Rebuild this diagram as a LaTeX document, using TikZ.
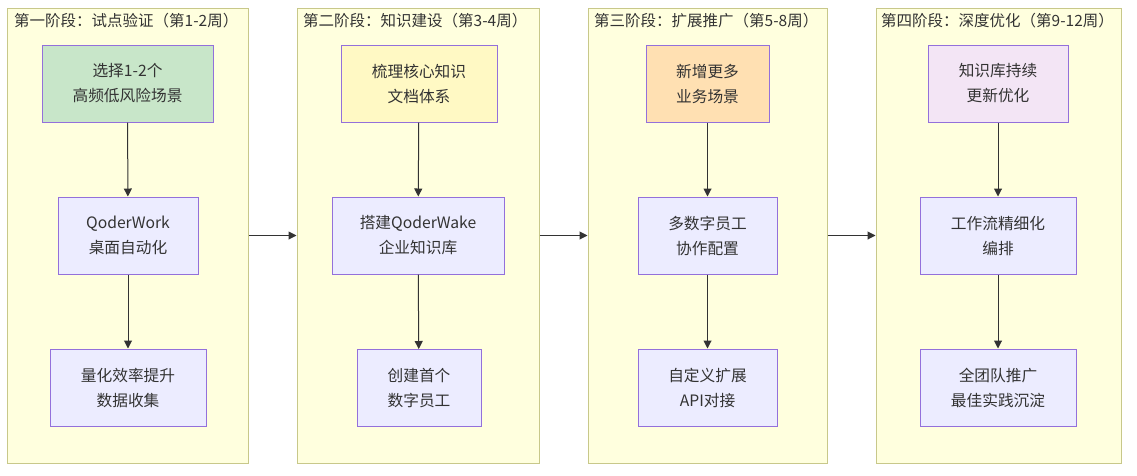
\documentclass[tikz,border=0pt]{standalone}
\usepackage{fontspec}
\setmainfont{Noto Sans CJK SC}
\usetikzlibrary{arrows.meta}
\definecolor{clfill}{HTML}{FFFFDE}
\definecolor{cldraw}{HTML}{C8C88A}
\definecolor{ndfill}{HTML}{ECECFF}
\definecolor{nddraw}{HTML}{9370DB}
\definecolor{txt}{HTML}{333333}
\definecolor{green1}{HTML}{C8E6C9}
\definecolor{yellow1}{HTML}{FFF9C4}
\definecolor{orange1}{HTML}{FFE0B2}
\definecolor{purple1}{HTML}{F3E5F5}
\tikzset{
  cluster/.style={draw=cldraw, fill=clfill, line width=1pt},
  box/.style={draw=nddraw, fill=ndfill, line width=1pt, minimum height=77pt, align=center,
    text=txt, font=\fontsize{15.7pt}{25pt}\selectfont, inner sep=0pt},
  ctitle/.style={anchor=west, text=txt, font=\fontsize{15.5pt}{17pt}\selectfont, inner sep=0pt},
  arr/.style={draw=txt, line width=1pt, -{Triangle[length=8pt,width=8pt]}}
}
\begin{document}
\begin{tikzpicture}[x=1pt,y=-1pt]
\useasboundingbox[fill=white] (0,0) rectangle (1137,475);
% clusters
\node[cluster, minimum width=241pt, minimum height=455pt, inner sep=0pt] (c1) at (128,235.5) {};
\node[cluster, minimum width=242pt, minimum height=455pt, inner sep=0pt] (c2) at (418,235.5) {};
\node[cluster, minimum width=239pt, minimum height=455pt, inner sep=0pt] (c3) at (707.5,235.5) {};
\node[cluster, minimum width=245pt, minimum height=455pt, inner sep=0pt] (c4) at (998.5,235.5) {};
\node[ctitle] (t1) at (14,20.5) {第一阶段：试点验证（第1-2周）};
\node[ctitle] (t2) at (303,20.5) {第二阶段：知识建设（第3-4周）};
\node[ctitle] (t3) at (594,20.5) {第三阶段：扩展推广（第5-8周）};
\node[ctitle] (t4) at (881,20.5) {第四阶段：深度优化（第9-12周）};
% cluster 1
\node[box, fill=green1, minimum width=171pt] (a1) at (127.5,83.5) {选择1-2个\\高频低风险场景};
\node[box, minimum width=140pt] (a2) at (128,235.5) {QoderWork\\桌面自动化};
\node[box, minimum width=156pt] (a3) at (128,387.5) {量化效率提升\\数据收集};
% cluster 2
\node[box, fill=yellow1, minimum width=156pt] (b1) at (419,83.5) {梳理核心知识\\文档体系};
\node[box, minimum width=172pt] (b2) at (418,235.5) {搭建QoderWake\\企业知识库};
\node[box, minimum width=124pt] (b3) at (419,388) {创建首个\\数字员工};
% cluster 3
\node[box, fill=orange1, minimum width=123pt] (d1) at (707.5,83.5) {新增更多\\业务场景};
\node[box, minimum width=139pt] (d2) at (707.5,235.5) {多数字员工\\协作配置};
\node[box, minimum width=139pt] (d3) at (707.5,387.5) {自定义扩展\\API对接};
% cluster 4
\node[box, fill=purple1, minimum width=140pt] (e1) at (998,83.5) {知识库持续\\更新优化};
\node[box, minimum width=156pt] (e2) at (998,235.5) {工作流精细化\\编排};
\node[box, minimum width=156pt] (e3) at (998,387.5) {全团队推广\\最佳实践沉淀};
% edges
\draw[arr] (a1) -- (a2);
\draw[arr] (a2) -- (a3);
\draw[arr] (b1) -- (b2);
\draw[arr] (b2) -- (b3);
\draw[arr] (d1) -- (d2);
\draw[arr] (d2) -- (d3);
\draw[arr] (e1) -- (e2);
\draw[arr] (e2) -- (e3);
\draw[arr] (c1.east) -- (c2.west);
\draw[arr] (c2.east) -- (c3.west);
\draw[arr] (c3.east) -- (c4.west);
\end{tikzpicture}
\end{document}
